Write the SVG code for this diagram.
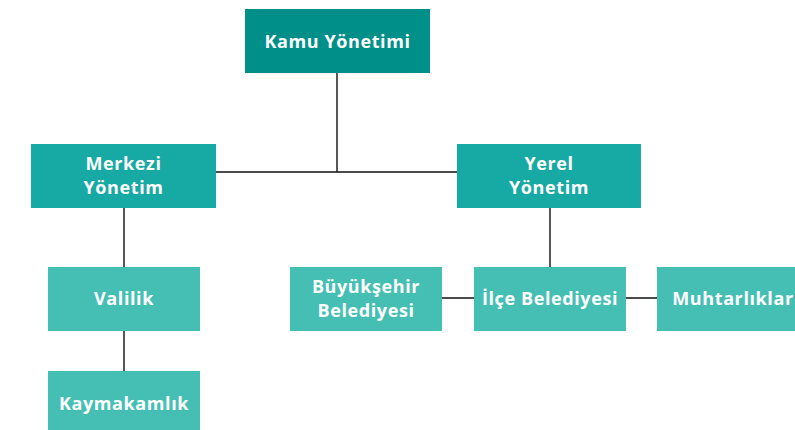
<svg xmlns="http://www.w3.org/2000/svg" width="795" height="430" viewBox="0 0 795 430">
<style>
text{font-family:"Open Sans","Liberation Sans",sans-serif;font-weight:700;font-size:18px;letter-spacing:0.6px;fill:#fff;text-anchor:middle}
.l1{fill:#009089}.l2{fill:#17a9a3}.l3{fill:#45bfb4}
.c{stroke:#111;stroke-width:1.4;fill:none}
</style>
<rect width="795" height="430" fill="#fff"/>
<g id="connectors">
<path class="c" d="M337,72V172M216,172H457M124,208V267M124,331V371M550,208V267M442,298H474M626,298H657"/>
</g>
<g id="kamu"><rect class="l1" x="245" y="9" width="185" height="64"/><text x="337.5" y="48">Kamu Yönetimi</text></g>
<g id="merkezi"><rect class="l2" x="31" y="144" width="185" height="64"/><text x="123.5" y="170">Merkezi</text><text x="123.5" y="194">Yönetim</text></g>
<g id="yerel"><rect class="l2" x="457" y="144" width="184" height="64"/><text x="549" y="170">Yerel</text><text x="549" y="194">Yönetim</text></g>
<g id="valilik"><rect class="l3" x="48" y="267" width="152" height="64"/><text x="124" y="305">Valilik</text></g>
<g id="kaymakamlik"><rect class="l3" x="48" y="371" width="152" height="59"/><text x="124" y="410">Kaymakamlık</text></g>
<g id="buyuksehir"><rect class="l3" x="290" y="267" width="152" height="64"/><text x="366" y="293">Büyükşehir</text><text x="366" y="317">Belediyesi</text></g>
<g id="ilce"><rect class="l3" x="474" y="267" width="152" height="64"/><text x="550" y="305">İlçe Belediyesi</text></g>
<g id="muhtarliklar"><rect class="l3" x="657" y="267" width="138" height="64"/><text x="733" y="305">Muhtarlıklar</text></g>
</svg>
